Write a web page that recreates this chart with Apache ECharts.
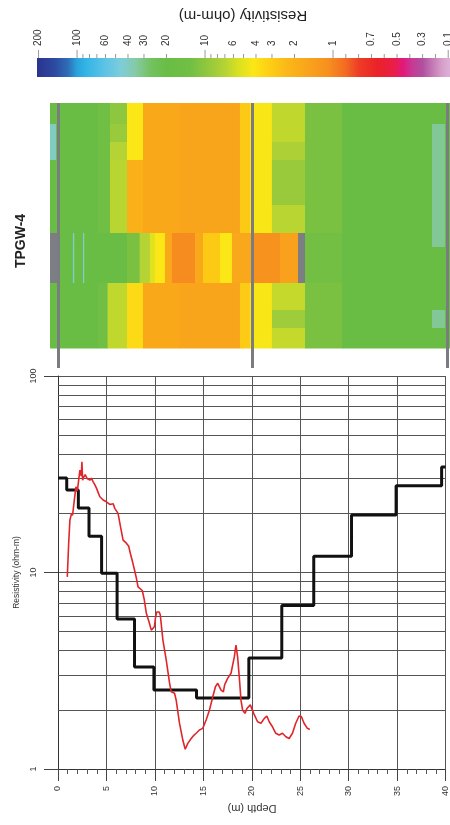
<!DOCTYPE html>
<html><head><meta charset="utf-8">
<script src="https://cdn.jsdelivr.net/npm/echarts@6/dist/echarts.min.js"></script>
<style>html,body{margin:0;padding:0;background:#fff}#c{width:450px;height:825px}</style>
</head><body><div id="c"></div>
<script>
// ================= DATA =================
// Layered inversion model (black step line): layer top depth (m) and resistivity (ohm-m)
const modelTops = [0, 0.9, 2.1, 3.2, 4.5, 6.1, 7.9, 9.9, 14.3, 19.7, 23.1, 26.4, 30.3, 34.9, 39.6];
const modelRho  = [30.3, 26.3, 21.3, 15.3, 9.9, 5.8, 3.3, 2.52, 2.30, 3.67, 6.8, 12.1, 19.6, 27.6, 34.4];
const modelBottom = 40;

// Borehole resistivity log (red line): [depth m, resistivity ohm-m]
const boreholeLog = [
  [0.96,9.5],[1.1,14],[1.23,18.5],[1.4,20],[1.5,19.5],[1.65,22.6],[1.85,27.3],[2.0,26],[2.1,28.6],
  [2.26,33.2],[2.4,31],[2.47,36.6],[2.54,29.5],[2.67,30.7],[2.8,31.5],[3.0,30.1],[3.15,30.8],[3.29,29.5],
  [3.45,30.2],[3.63,28.9],[3.8,28.0],[3.98,26.8],[4.15,25.5],[4.32,24.3],[4.5,24.0],[4.66,23.4],[4.85,23.8],
  [5.0,22.9],[5.2,23.3],[5.35,22.2],[5.52,22.0],[5.7,22.4],[5.86,21.2],[6.05,21.0],[6.2,20.0],[6.45,17.1],
  [6.72,14.6],[7.06,14.1],[7.3,13.6],[7.47,12.5],[7.7,11.3],[7.9,10.3],[8.1,9.3],[8.26,8.46],[8.45,8.4],
  [8.7,8.1],[8.9,7.3],[9.12,6.2],[9.4,5.6],[9.63,5.09],[9.8,4.99],[9.95,5.3],[10.08,5.96],[10.2,6.3],
  [10.32,6.39],[10.45,6.3],[10.56,6.07],[10.83,4.53],[11.17,3.59],[11.52,2.73],[11.69,2.47],[11.86,2.52],
  [12.03,2.43],[12.2,2.24],[12.54,1.71],[12.89,1.40],[13.13,1.26],[13.4,1.35],[13.75,1.43],[14.0,1.48],
  [14.26,1.52],[14.6,1.58],[14.94,1.61],[15.3,1.78],[15.63,1.99],[15.98,2.33],[16.25,2.62],[16.49,2.73],
  [16.83,2.52],[17.07,2.47],[17.2,2.68],[17.51,2.89],[17.86,3.07],[18.2,3.72],[18.37,4.27],[18.54,3.72],
  [18.71,2.95],[18.89,2.24],[19.06,1.99],[19.3,1.92],[19.5,2.03],[19.85,2.12],[20.2,1.92],[20.6,1.74],
  [20.95,1.71],[21.3,1.81],[21.56,1.86],[21.8,1.74],[22.14,1.64],[22.48,1.52],[22.83,1.49],[23.17,1.52],
  [23.52,1.46],[23.86,1.43],[24.2,1.52],[24.54,1.71],[24.88,1.86],[25.12,1.85],[25.4,1.71],[25.74,1.61],[26.0,1.59]
];

// Bottom plot axes
const depthMin = 0, depthMax = 40, depthStep = 5;
const rhoMin = 1, rhoMax = 100;
const rhoMinorGrid = [2,3,4,5,6,7,8,9,20,30,40,50,60,70,80,90];

// Colour scale (value -> colour), labels and ticks
const cbStopValues = [200,150,118,100,85,60,45,35,27,20,13,10,7,5.5,4.2,3.2,2.3,1.6,1.1,0.9,0.8,0.65,0.52,0.45,0.38,0.3,0.22,0.15,0.1];
const cbStopColors = ['#2b3590','#2d4aa0','#2e6db5','#2aa3dc','#33b5e5','#5ec3e6','#7dcdd8','#86caa6','#74c262','#69bd45',
  '#72bf44','#8dc63f','#b5d334','#d9e021','#fbe716','#fdd014','#fbb818','#f9a51b','#f7901e','#f26b23','#ee3d26',
  '#eb2128','#e91e4a','#e1197c','#c73a95','#b0509f','#c57ab6','#d69ec9','#dcaed5'];
const cbLabels = ['200','100','60','40','30','20','10','6','4','3','2','1','0.7','0.5','0.3','0.1'];
const cbMajorTicks = [200,100,10,1,0.1];
const cbMinorTicks = [90,80,70,60,50,40,30,20,9,8,7,6,5,4,3,2,0.9,0.8,0.7,0.6,0.5,0.4,0.3,0.2];

// Resistivity section: row edges (offset units, top->bottom) and per-row segments [depthFrom, depthTo, rho] (null = no data, grey)
const sectionRowEdges = [0, 21, 39, 57, 102, 130, 144, 180, 207, 225, 245];
const boreholeBand = [[-0.82,0.2,null],[0.2,1.54,20],[1.54,1.66,45],[1.66,2.57,20],[2.57,2.69,45],[2.69,7.1,20],[7.1,8.4,12],
  [8.4,9.45,7],[9.45,9.97,5.2],[9.97,11.0,4.2],[11.0,11.72,1.7],[11.72,14.1,1.05],[14.1,14.91,1.7],[14.91,16.66,2.9],
  [16.66,17.89,4.2],[17.89,20.05,1.65],[20.05,22.83,1.15],[22.83,24.68,1.5],[24.68,25.4,null]];
const row0 = [[-0.82,4.1,20],[4.1,5.35,14],[5.35,7.1,10],[7.1,8.74,4.2],[8.74,12.5,1.7],[12.5,18.71,1.6],[18.71,19.74,2.9],
  [19.74,22.0,4.3],[22.0,25.4,6.5],[25.4,29.2,12],[29.2,40.31,20]];
const row1 = [[-0.82,-0.2,40],[-0.2,4.1,20],[4.1,5.35,14],[5.35,7.1,9],[7.1,8.74,4.2],[8.74,12.5,1.7],[12.5,18.71,1.6],
  [18.71,19.74,2.9],[19.74,22.0,4.3],[22.0,25.4,6.5],[25.4,29.2,12],[29.2,38.46,20],[38.46,39.79,33],[39.79,40.31,20]];
const row2 = [[-0.82,-0.2,40],[-0.2,4.1,20],[4.1,5.35,14],[5.35,7.1,7],[7.1,8.74,4.2],[8.74,12.5,1.7],[12.5,18.71,1.6],
  [18.71,19.74,2.9],[19.74,22.0,4.3],[22.0,25.4,7.5],[25.4,29.2,12],[29.2,38.46,20],[38.46,39.79,33],[39.79,40.31,20]];
const row3 = [[-0.82,4.1,20],[4.1,5.35,14],[5.35,7.1,6.8],[7.1,8.74,2.0],[8.74,12.5,1.7],[12.5,18.71,1.6],[18.71,19.74,2.9],
  [19.74,22.0,4.3],[22.0,25.4,9],[25.4,29.2,12],[29.2,38.46,20],[38.46,39.79,33],[39.79,40.31,20]];
const row4 = [[-0.82,4.1,20],[4.1,5.35,14],[5.35,7.1,6.8],[7.1,8.74,2.0],[8.74,12.5,1.7],[12.5,18.71,1.6],[18.71,19.74,2.9],
  [19.74,22.0,4.3],[22.0,25.4,6.8],[25.4,29.2,12],[29.2,38.46,20],[38.46,39.79,33],[39.79,40.31,20]];
const row5 = boreholeBand.concat([[25.4,29.2,13],[29.2,38.46,20],[38.46,39.79,33],[39.79,40.31,20]]);
const row6 = boreholeBand.concat([[25.4,29.2,13],[29.2,40.31,20]]);
const row7 = [[-0.82,4.1,20],[4.1,5.1,14],[5.1,7.1,6.5],[7.1,8.74,3.6],[8.74,12.5,1.7],[12.5,18.71,1.6],[18.71,19.74,3.0],
  [19.74,22.0,4.3],[22.0,25.4,6.3],[25.4,29.2,12],[29.2,40.31,20]];
const row8 = [[-0.82,4.1,20],[4.1,5.1,14],[5.1,7.1,6.5],[7.1,8.74,3.6],[8.74,12.5,1.7],[12.5,18.71,1.6],[18.71,19.74,3.0],
  [19.74,22.0,4.3],[22.0,25.4,8.5],[25.4,29.2,12],[29.2,38.46,20],[38.46,39.79,33],[39.79,40.31,20]];
const row9 = [[-0.82,4.1,20],[4.1,5.1,14],[5.1,7.1,6.5],[7.1,8.74,3.6],[8.74,12.5,1.7],[12.5,18.71,1.6],[18.71,19.74,3.0],
  [19.74,22.0,4.3],[22.0,25.4,6.3],[25.4,29.2,12],[29.2,40.31,20]];
const sectionRows = [row0,row1,row2,row3,row4,row5,row6,row7,row8,row9];
const sectionDepthMin = -0.82, sectionDepthMax = 40.31;
const sectionMarkerDepths = [0, 20, 40];
const wellName = 'TPGW-4';

// ================= HELPERS =================
const FONT = 'Liberation Sans, Arial, Helvetica, sans-serif';
function rhoToU(v){ return v >= 1 ? Math.log10(200 / v) : Math.log10(200) + (1 - v); }
const cbU = cbStopValues.map(rhoToU);
const cbUMin = -0.012, cbUMax = 3.215;
function hex(c){ return [parseInt(c.substr(1,2),16), parseInt(c.substr(3,2),16), parseInt(c.substr(5,2),16)]; }
function colorFor(v){
  const u = rhoToU(v);
  if (u <= cbU[0]) return cbStopColors[0];
  for (let i = 0; i < cbU.length - 1; i++){
    if (u >= cbU[i] && u <= cbU[i+1]){
      const t = (u - cbU[i]) / (cbU[i+1] - cbU[i]);
      const a = hex(cbStopColors[i]), b = hex(cbStopColors[i+1]);
      return 'rgb(' + a.map((x,k)=>Math.round(x + (b[k]-x)*t)).join(',') + ')';
    }
  }
  return cbStopColors[cbStopColors.length-1];
}

const sectionCells = [];
sectionRows.forEach((segs, r) => {
  segs.forEach(s => {
    sectionCells.push({ value:[s[0], s[1], sectionRowEdges[r], sectionRowEdges[r+1], s[2] == null ? 0 : s[2]],
      fill: s[2] == null ? '#7d7d84' : colorFor(s[2]) });
  });
});

const modelData = modelTops.map((d,i)=>[d, modelRho[i]]).concat([[modelBottom, modelRho[modelRho.length-1]]]);

const cbTickItems = cbMajorTicks.map(v=>({value:[rhoToU(v), 1]})).concat(cbMinorTicks.map(v=>({value:[rhoToU(v), 0]})));
const cbLabelItems = cbLabels.map(t=>({value:[rhoToU(parseFloat(t)), 0], name:t}));

const chart = echarts.init(document.getElementById('c'), null, {renderer:'canvas'});
const option = {
  animation: false,
  backgroundColor: '#fff',
  textStyle: { fontFamily: FONT },
  grid: [
    { left: 37, top: 58, width: 413, height: 19 },
    { left: 50, top: 103, width: 400, height: 265 },
    { left: 58, top: 376, width: 389, height: 393 }
  ],
  xAxis: [
    { gridIndex: 0, type: 'value', min: cbUMin, max: cbUMax, show: false },
    { gridIndex: 1, type: 'value', min: sectionDepthMin, max: sectionDepthMax, show: false },
    { gridIndex: 2, type: 'value', min: depthMin, max: depthMax, interval: depthStep,
      axisLine: { show: true, onZero: false, lineStyle: { color: '#333', width: 1 } },
      axisTick: { show: true, length: 12, lineStyle: { color: '#444' } },
      minorTick: { show: true, splitNumber: 5, length: 5, lineStyle: { color: '#555' } },
      splitLine: { show: true, lineStyle: { color: '#555', width: 1 } },
      axisLabel: { rotate: 90, fontSize: 9, color: '#333', margin: 17, fontFamily: FONT } }
  ],
  yAxis: [
    { gridIndex: 0, type: 'value', min: 0, max: 1, show: false },
    { gridIndex: 1, type: 'value', min: 0, max: 265, inverse: true, show: false },
    { gridIndex: 2, type: 'log', logBase: 10, min: rhoMin, max: rhoMax, splitNumber: 2,
      name: 'Resistivity (ohm-m)', nameLocation: 'middle', nameRotate: 90, nameGap: 28,
      nameTextStyle: { fontSize: 8.5, color: '#333', fontFamily: FONT },
      axisLine: { show: true, lineStyle: { color: '#333', width: 1 } },
      axisTick: { show: true, length: 14, lineStyle: { color: '#444' } },
      splitLine: { show: true, lineStyle: { color: '#555', width: 1 } },
      axisLabel: { rotate: 90, fontSize: 9, color: '#333', margin: 20, fontFamily: FONT } }
  ],
  series: [
    {
      type: 'custom', xAxisIndex: 0, yAxisIndex: 0, silent: true,
      data: [[cbUMin, cbUMax]],
      renderItem: function(params, api){
        const p0 = api.coord([api.value(0), 1]);
        const p1 = api.coord([api.value(1), 0]);
        return { type: 'rect', shape: { x: p0[0], y: p0[1], width: p1[0]-p0[0], height: p1[1]-p0[1] },
          style: { fill: { type: 'linear', x: 0, y: 0, x2: 1, y2: 0,
            colorStops: cbU.map((u,i)=>({ offset: Math.min(1, Math.max(0, (u - cbUMin)/(cbUMax - cbUMin))), color: cbStopColors[i] })) } } };
      }
    },
    {
      type: 'custom', xAxisIndex: 0, yAxisIndex: 0, silent: true, clip: false,
      data: cbTickItems,
      renderItem: function(params, api){
        const p = api.coord([api.value(0), 1]);
        const len = api.value(1) ? 8 : 4;
        return { type: 'line', shape: { x1: p[0], y1: p[1]-len, x2: p[0], y2: p[1] },
          style: { stroke: '#999', lineWidth: 1 } };
      }
    },
    {
      type: 'custom', xAxisIndex: 0, yAxisIndex: 0, silent: true, clip: false,
      data: cbLabelItems,
      renderItem: function(params, api){
        const p = api.coord([api.value(0), 1]);
        return { type: 'text', x: p[0], y: p[1] - 12, rotation: Math.PI/2,
          style: { text: cbLabels[params.dataIndex], fontSize: 10, fill: '#333', fontFamily: FONT,
            align: 'left', verticalAlign: 'middle' } };
      }
    },
    {
      type: 'custom', xAxisIndex: 1, yAxisIndex: 1, silent: true,
      data: sectionCells,
      renderItem: function(params, api){
        const p0 = api.coord([api.value(0), api.value(2)]);
        const p1 = api.coord([api.value(1), api.value(3)]);
        return { type: 'rect', shape: { x: p0[0], y: p0[1], width: p1[0]-p0[0]+0.5, height: p1[1]-p0[1]+0.5 },
          style: { fill: sectionCells[params.dataIndex].fill } };
      },
      markLine: { silent: true, symbol: 'none', label: { show: false },
        lineStyle: { color: '#7b7b82', width: 3, type: 'solid' },
        data: sectionMarkerDepths.map(d=>({ xAxis: d })) }
    },
    {
      type: 'line', xAxisIndex: 2, yAxisIndex: 2, step: 'end', symbol: 'none', silent: true,
      data: modelData, z: 3,
      lineStyle: { color: '#111', width: 3 },
      markLine: { silent: true, symbol: 'none', label: { show: false }, z: 1,
        lineStyle: { color: '#555', width: 1, type: 'solid' },
        data: rhoMinorGrid.map(v=>({ yAxis: v })) }
    },
    {
      type: 'line', xAxisIndex: 2, yAxisIndex: 2, symbol: 'none', silent: true, z: 4,
      data: boreholeLog,
      lineStyle: { color: '#e0262b', width: 1.6 }
    }
  ],
  graphic: [
    { type: 'text', x: 243, y: 15, rotation: Math.PI,
      style: { text: 'Resistivity (ohm-m)', fontSize: 15, fill: '#222', fontFamily: FONT, align: 'center', verticalAlign: 'middle' } },
    { type: 'text', x: 21, y: 241, rotation: Math.PI/2,
      style: { text: wellName, fontSize: 14, fontWeight: 'bold', fill: '#222', fontFamily: FONT, align: 'center', verticalAlign: 'middle' } },
    { type: 'text', x: 252, y: 808, rotation: Math.PI,
      style: { text: 'Depth (m)', fontSize: 11, fill: '#333', fontFamily: FONT, align: 'center', verticalAlign: 'middle' } }
  ]
};
chart.setOption(option);
</script>
</body></html>
